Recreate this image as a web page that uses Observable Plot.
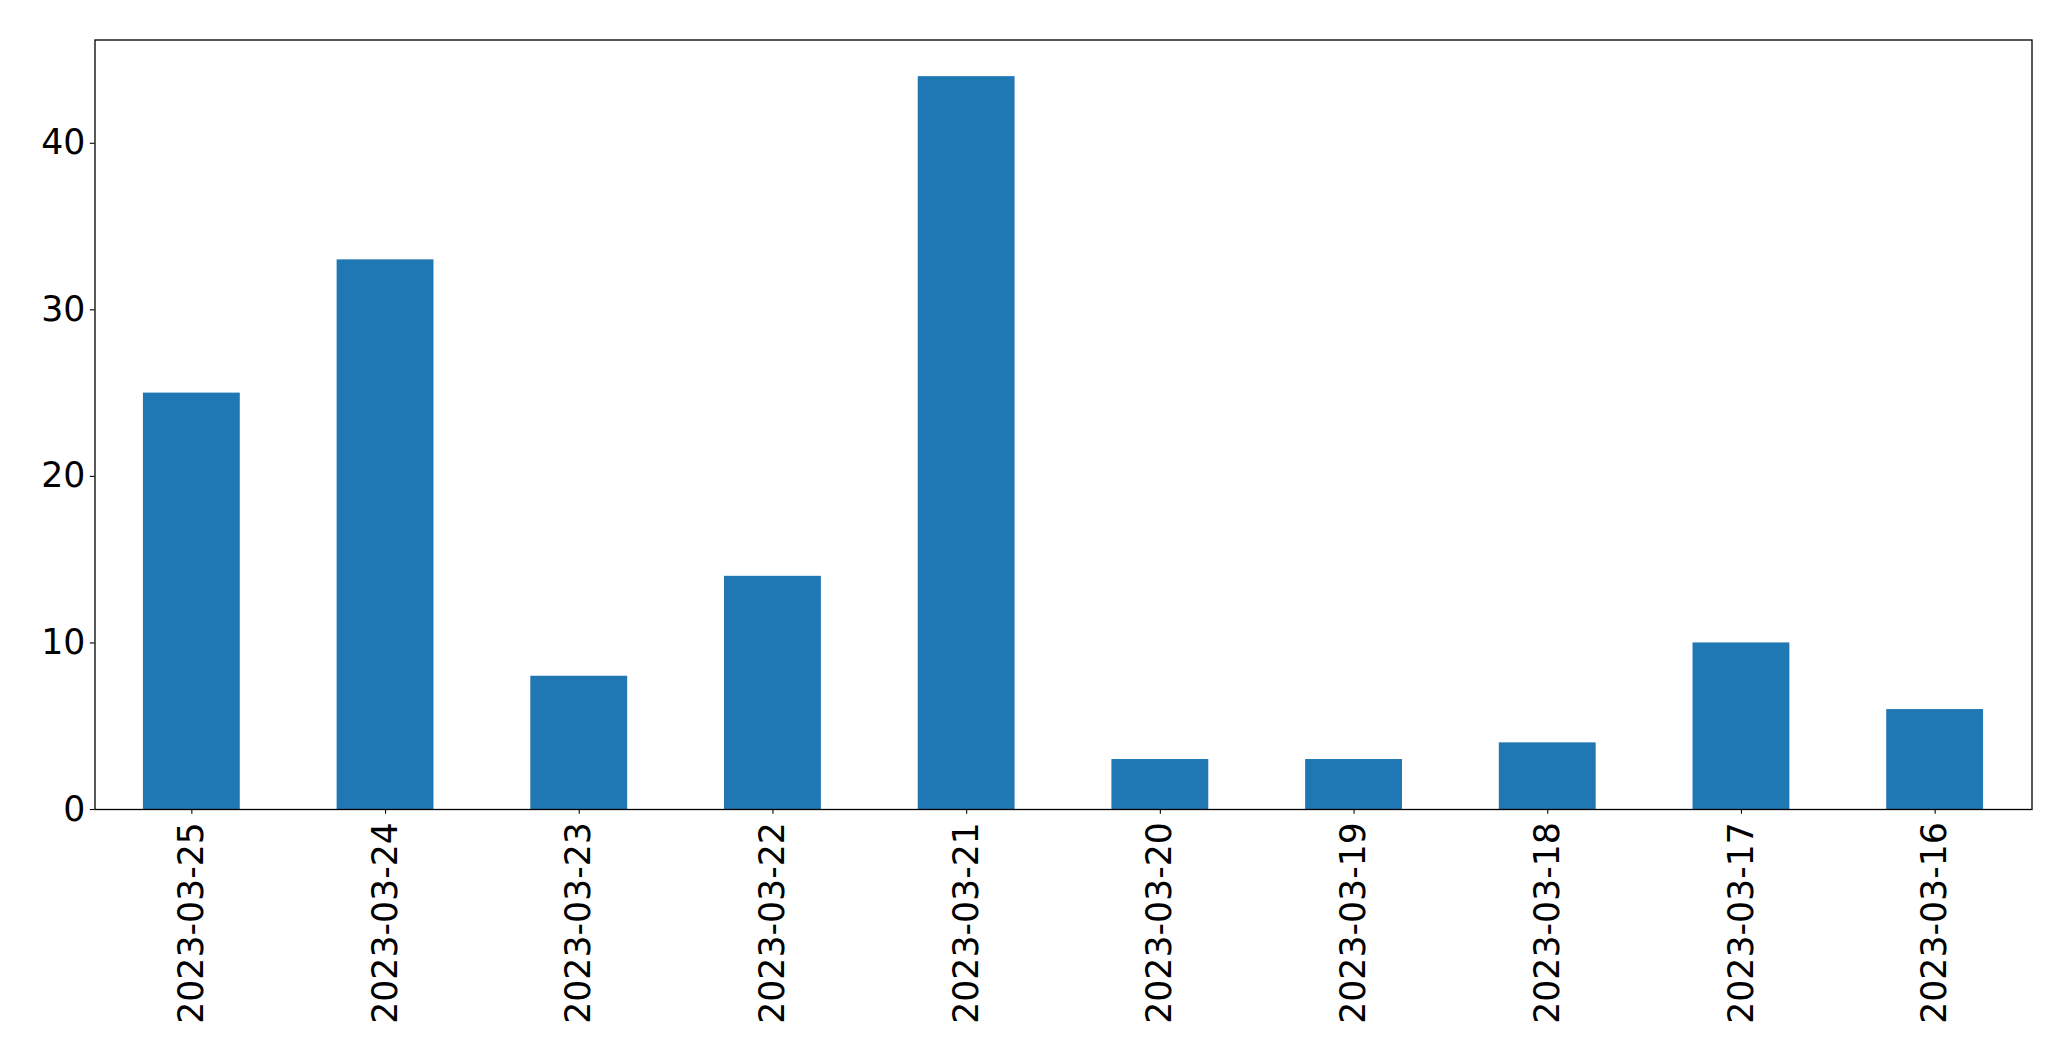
<!DOCTYPE html>
<html>
<head>
<meta charset="utf-8">
<script src="https://cdn.jsdelivr.net/npm/d3@7"></script>
<script src="https://cdn.jsdelivr.net/npm/@observablehq/plot@0.6"></script>
<style>
  html, body { margin: 0; padding: 0; background: #fff; }
  #chart svg { display: block; }
</style>
</head>
<body>
<div id="chart"></div>
<script>
const dates = ["2023-03-25", "2023-03-24", "2023-03-23", "2023-03-22", "2023-03-21", "2023-03-20", "2023-03-19", "2023-03-18", "2023-03-17", "2023-03-16"];
const counts = [25, 33, 8, 14, 44, 3, 3, 4, 10, 6];
const yTicks = [0, 10, 20, 30, 40];

const data = dates.map((d, i) => ({date: d, count: counts[i]}));

const chart = Plot.plot({
  width: 2071,
  height: 1061,
  marginLeft: 94.5,
  marginRight: 39.5,
  marginTop: 39.5,
  marginBottom: 252,
  style: {fontFamily: "DejaVu Sans", fontSize: "34.7px", color: "#000", background: "#fff"},
  x: {domain: dates, paddingInner: 0.5, paddingOuter: 0.25, round: false, label: null},
  y: {domain: [0, 46.2], label: null},
  marks: [
    Plot.barY(data, {x: "date", y: "count", fill: "#1f77b4"}),
    Plot.frame({stroke: "#000", strokeWidth: 1.3}),
    Plot.axisY({ticks: yTicks, tickSize: 4.7, tickPadding: 5, fontSize: 34.7, tickFormat: d => String(d), label: null, stroke: "#000", strokeWidth: 1.1}),
    Plot.axisX({tickSize: 4.7, tickPadding: 8, fontSize: 34.7, tickRotate: -90, label: null, stroke: "#000", strokeWidth: 1.1})
  ]
});
document.getElementById("chart").appendChild(chart);
</script>
</body>
</html>
